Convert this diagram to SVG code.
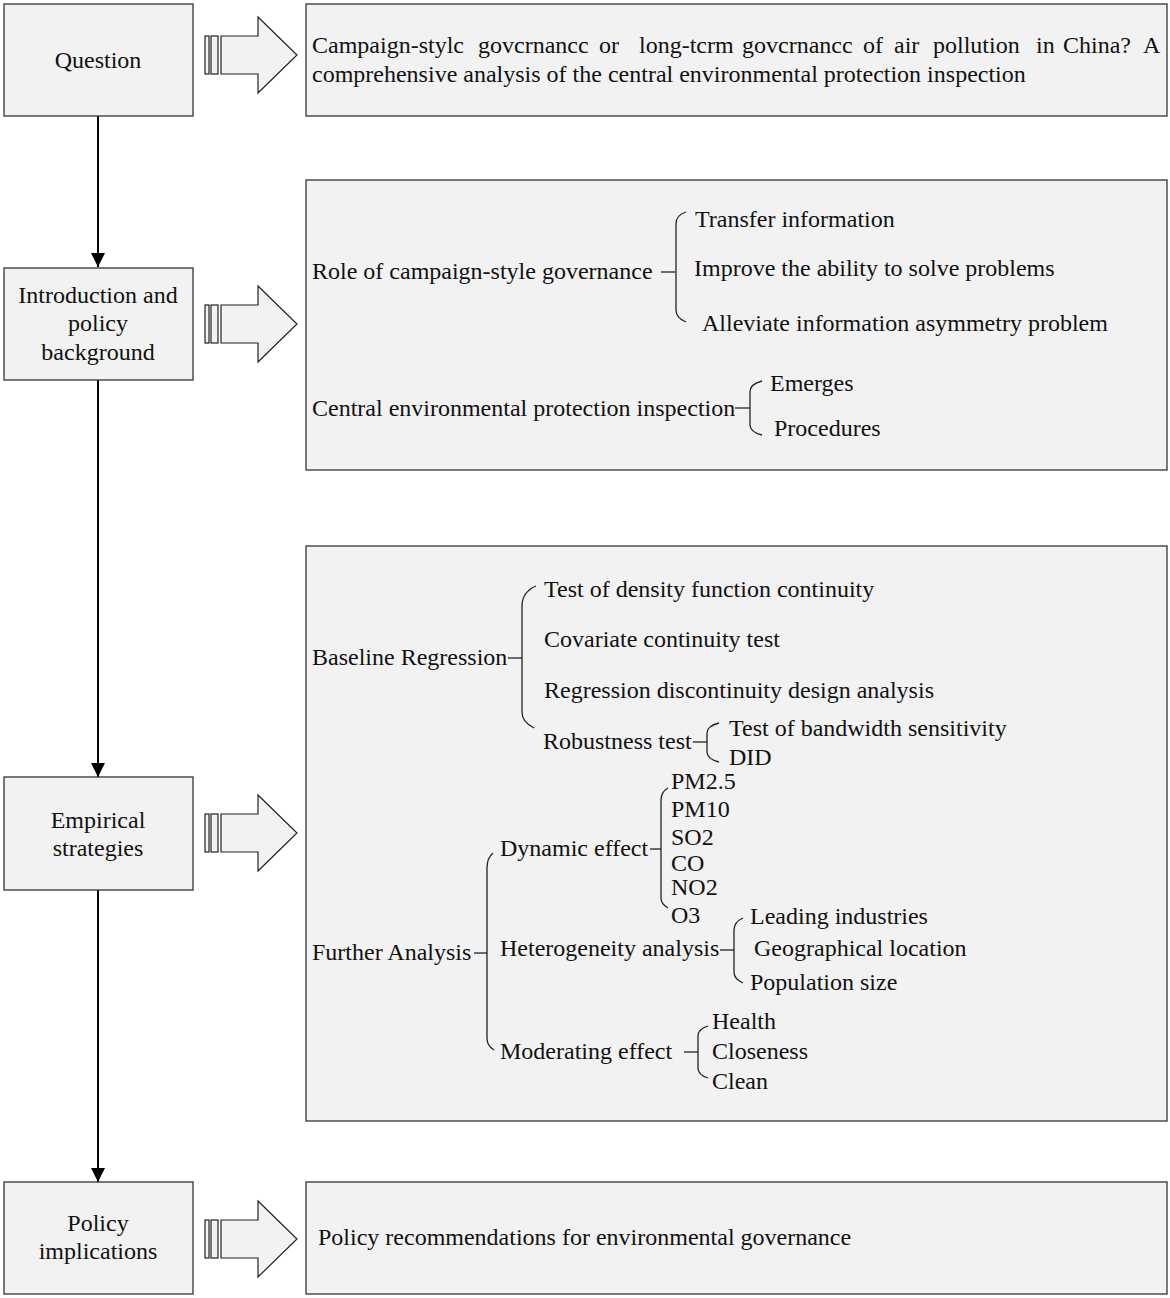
<svg xmlns="http://www.w3.org/2000/svg" width="1170" height="1298" viewBox="0 0 1170 1298">
<defs>
<style>
.box{fill:#f2f2f2;stroke:#333;stroke-width:1.3}
.t{font-family:"Liberation Serif","Times New Roman",serif;font-size:24px;fill:#111}
.c{text-anchor:middle}
.br{fill:none;stroke:#222;stroke-width:1.3}
.con{fill:none;stroke:#000;stroke-width:2}
.ba{fill:#f2f2f2;stroke:#222;stroke-width:1.2}
</style>
<marker id="ah" viewBox="0 0 10 10" refX="10" refY="5" markerWidth="14" markerHeight="14" markerUnits="userSpaceOnUse" orient="auto"><path d="M0,0 L10,5 L0,10 Z" fill="#000"/></marker>
<g id="bigarrow">
<rect class="ba" x="205" y="-19" width="4" height="38"/>
<rect class="ba" x="211" y="-19" width="7" height="38"/>
<path class="ba" d="M221,-19 L258,-19 L258,-38 L297,0 L258,38 L258,19 L221,19 Z"/>
</g>
</defs>
<rect width="1170" height="1298" fill="#fff"/>

<g id="connectors">
<line class="con" x1="98" y1="116" x2="98" y2="267" marker-end="url(#ah)"/>
<line class="con" x1="98" y1="380" x2="98" y2="777" marker-end="url(#ah)"/>
<line class="con" x1="98" y1="890" x2="98" y2="1182" marker-end="url(#ah)"/>
<use href="#bigarrow" y="55"/>
<use href="#bigarrow" y="324"/>
<use href="#bigarrow" y="833"/>
<use href="#bigarrow" y="1239"/>
</g>

<g id="question">
<rect class="box" x="4" y="4" width="189" height="112"/>
<text class="t c" x="98" y="68">Question</text>
</g>
<g id="question-detail">
<rect class="box" x="306" y="4" width="861" height="112"/>
<text class="t" y="53"><tspan x="312">Campaign-stylc</tspan><tspan x="478">govcrnancc</tspan><tspan x="599">or</tspan><tspan x="639">long-tcrm</tspan><tspan x="742">govcrnancc</tspan><tspan x="863">of</tspan><tspan x="894">air</tspan><tspan x="933">pollution</tspan><tspan x="1036">in</tspan><tspan x="1063">China?</tspan><tspan x="1143">A</tspan></text>
<text class="t" x="312" y="82">comprehensive analysis of the central environmental protection inspection</text>
</g>

<g id="introduction">
<rect class="box" x="4" y="268" width="189" height="112"/>
<text class="t c" x="98" y="303">Introduction and</text>
<text class="t c" x="98" y="331">policy</text>
<text class="t c" x="98" y="360">background</text>
</g>
<g id="introduction-detail">
<rect class="box" x="306" y="180" width="861" height="290"/>
<text class="t" x="312" y="279">Role of campaign-style governance</text>
<line class="br" x1="661" y1="272" x2="675" y2="272"/>
<path class="br" d="M686,212 Q676,215 676,224 L676,310 Q676,318 686,322"/>
<text class="t" x="695" y="227">Transfer information</text>
<text class="t" x="694" y="276">Improve the ability to solve problems</text>
<text class="t" x="702" y="331">Alleviate information asymmetry problem</text>
<text class="t" x="312" y="416">Central environmental protection inspection</text>
<line class="br" x1="735" y1="408" x2="750" y2="408"/>
<path class="br" d="M762,381 Q750,384 750,392 L750,425 Q750,432 762,435"/>
<text class="t" x="770" y="391">Emerges</text>
<text class="t" x="774" y="436">Procedures</text>
</g>

<g id="empirical">
<rect class="box" x="4" y="777" width="189" height="113"/>
<text class="t c" x="98" y="828">Empirical</text>
<text class="t c" x="98" y="856">strategies</text>
</g>
<g id="empirical-detail">
<rect class="box" x="306" y="546" width="861" height="575"/>
<text class="t" x="312" y="665">Baseline Regression</text>
<line class="br" x1="508" y1="658" x2="522" y2="658"/>
<path class="br" d="M536,586 Q522,592 522,606 L522,712 Q522,722 534,728"/>
<text class="t" x="544" y="597">Test of density function continuity</text>
<text class="t" x="544" y="647">Covariate continuity test</text>
<text class="t" x="544" y="698">Regression discontinuity design analysis</text>
<text class="t" x="543" y="749">Robustness test</text>
<line class="br" x1="693" y1="742" x2="707" y2="742"/>
<path class="br" d="M719,723 Q707,726 707,733 L707,752 Q707,759 719,762"/>
<text class="t" x="729" y="736">Test of bandwidth sensitivity</text>
<text class="t" x="729" y="765">DID</text>

<text class="t" x="312" y="960">Further Analysis</text>
<line class="br" x1="474" y1="953" x2="487" y2="953"/>
<path class="br" d="M493,853 Q487,858 487,868 L487,1038 Q487,1046 494,1050"/>
<text class="t" x="500" y="856">Dynamic effect</text>
<line class="br" x1="650" y1="849" x2="661" y2="849"/>
<path class="br" d="M668,788 Q661,792 661,800 L661,898 Q661,904 668,908"/>
<text class="t" x="671" y="789">PM2.5</text>
<text class="t" x="671" y="817">PM10</text>
<text class="t" x="671" y="845">SO2</text>
<text class="t" x="671" y="871">CO</text>
<text class="t" x="671" y="895">NO2</text>
<text class="t" x="671" y="923">O3</text>
<text class="t" x="500" y="956">Heterogeneity analysis</text>
<line class="br" x1="720" y1="950" x2="734" y2="950"/>
<path class="br" d="M743,918 Q734,922 734,930 L734,972 Q734,979 743,983"/>
<text class="t" x="750" y="924">Leading industries</text>
<text class="t" x="754" y="956">Geographical location</text>
<text class="t" x="750" y="990">Population size</text>
<text class="t" x="500" y="1059">Moderating effect</text>
<line class="br" x1="684" y1="1052" x2="698" y2="1052"/>
<path class="br" d="M708,1026 Q698,1029 698,1036 L698,1068 Q698,1075 708,1078"/>
<text class="t" x="712" y="1029">Health</text>
<text class="t" x="712" y="1059">Closeness</text>
<text class="t" x="712" y="1089">Clean</text>
</g>

<g id="policy">
<rect class="box" x="4" y="1182" width="189" height="112"/>
<text class="t c" x="98" y="1231">Policy</text>
<text class="t c" x="98" y="1259">implications</text>
</g>
<g id="policy-detail">
<rect class="box" x="306" y="1182" width="861" height="112"/>
<text class="t" x="318" y="1245">Policy recommendations for environmental governance</text>
</g>
</svg>
